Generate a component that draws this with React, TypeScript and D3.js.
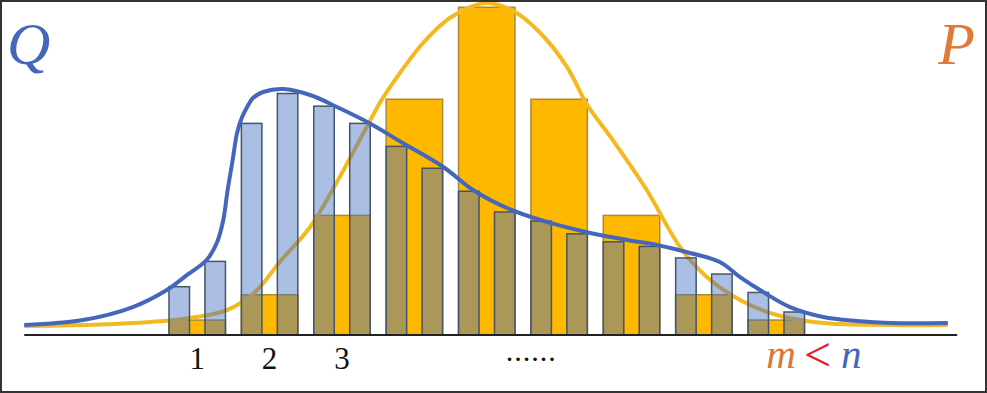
import React from "react";
import * as d3 from "d3";

const W = 987;
const H = 393;

// group index for each bar cluster
const groups = [0, 1, 2, 3, 4, 5, 6, 7, 8];

// P distribution (wide orange bars), one per group
const pValues = [0.013, 0.035, 0.104, 0.205, 0.285, 0.205, 0.104, 0.035, 0.013];

// Q distribution (narrow blue bars), two per group
const qValues = [
  [0.042, 0.064],
  [0.184, 0.21],
  [0.199, 0.184],
  [0.164, 0.145],
  [0.125, 0.107],
  [0.099, 0.088],
  [0.081, 0.077],
  [0.067, 0.053],
  [0.037, 0.02],
];

// smooth density of P, sampled points (x in group units)
const pCurveX = [-2.39, -1.34, -0.65, -0.1, 0.41, 0.8, 1.14, 1.56, 1.93, 2.29, 2.53, 2.76, 3.12, 3.49, 4.0, 4.39, 4.74, 5.11, 5.39, 5.74, 6.21, 6.67, 7.04, 7.5, 8.01, 8.65, 9.57, 10.37];
const pCurveY = [0.0078, 0.0091, 0.0113, 0.0148, 0.0217, 0.0374, 0.0635, 0.0939, 0.133, 0.1748, 0.2026, 0.2243, 0.2539, 0.2757, 0.2887, 0.2809, 0.2626, 0.233, 0.2, 0.1696, 0.1261, 0.0765, 0.0504, 0.0304, 0.0174, 0.0104, 0.0087, 0.0087];

// smooth density of Q
const qCurveX = [-2.39, -1.58, -0.89, -0.42, -0.14, 0.13, 0.27, 0.36, 0.42, 0.49, 0.55, 0.62, 0.69, 0.77, 0.91, 1.19, 1.56, 1.93, 2.35, 2.84, 3.4, 3.81, 4.28, 4.83, 5.43, 5.94, 6.35, 6.81, 7.22, 7.5, 7.82, 8.19, 8.65, 9.12, 9.57, 10.37];
const qCurveY = [0.0087, 0.013, 0.0243, 0.0391, 0.0522, 0.0652, 0.08, 0.1, 0.1261, 0.1522, 0.1757, 0.1896, 0.1983, 0.2061, 0.2113, 0.2139, 0.2087, 0.1983, 0.1852, 0.167, 0.1461, 0.1261, 0.1104, 0.0983, 0.0887, 0.0826, 0.0783, 0.0713, 0.0635, 0.0504, 0.0374, 0.0243, 0.0157, 0.0122, 0.0104, 0.0104];

// x-axis labels
const tickLabels = ["1", "2", "3"];
const dotsLabel = "......";
const dotsAt = 4.63;
const compareAt = 8.52;
const axisExtent = [-2.39, 10.5];

export default function App() {
  const baseline = 335;

  // groups of bars
  const xBand = d3
    .scaleBand<number>()
    .domain(groups)
    .range([169, 804.5])
    .paddingInner(0.22)
    .paddingOuter(0);
  const bw = xBand.bandwidth();
  const inner = d3
    .scaleBand<number>()
    .domain([0, 1])
    .range([0, bw])
    .paddingInner(0.43);

  const x = d3
    .scaleLinear()
    .domain([0, 8])
    .range([xBand(0)! + bw / 2, xBand(8)! + bw / 2]);
  const y = d3.scaleLinear().domain([0, 0.3]).range([baseline, baseline - 0.3 * 1150]);

  const line = d3
    .line<[number, number]>()
    .x((d) => x(d[0]))
    .y((d) => y(d[1]))
    .curve(d3.curveCatmullRom.alpha(0.5));

  const pPts = pCurveX.map((v, i) => [v, pCurveY[i]] as [number, number]);
  const qPts = qCurveX.map((v, i) => [v, qCurveY[i]] as [number, number]);

  const serif = "'Liberation Serif', 'DejaVu Serif', serif";

  return (
    <svg
      width={W}
      height={H}
      style={{ position: "absolute", left: 0, top: 0, display: "block", background: "#fff" }}
    >
      {/* P bars */}
      {groups.map((g) => (
        <rect
          key={"p" + g}
          x={xBand(g)}
          y={y(pValues[g])}
          width={bw}
          height={baseline - y(pValues[g])}
          fill="#FFB800"
          stroke="#A88A3C"
          strokeWidth={1.5}
        />
      ))}

      {/* P curve */}
      <path d={line(pPts) || ""} fill="none" stroke="#F4B91E" strokeWidth={4} />

      {/* Q bars */}
      {groups.map((g) =>
        qValues[g].map((v, j) => (
          <rect
            key={"q" + g + "-" + j}
            x={xBand(g)! + inner(j)!}
            y={y(v)}
            width={inner.bandwidth()}
            height={baseline - y(v)}
            fill="rgba(68,114,196,0.45)"
            stroke="#44546A"
            strokeWidth={1.5}
          />
        ))
      )}

      {/* x axis */}
      <line
        x1={x(axisExtent[0])}
        x2={x(axisExtent[1])}
        y1={baseline}
        y2={baseline}
        stroke="#222"
        strokeWidth={2}
      />

      {/* Q curve */}
      <path d={line(qPts) || ""} fill="none" stroke="#4466BB" strokeWidth={4} />

      {/* labels under groups */}
      {tickLabels.map((t, i) => (
        <text
          key={t}
          x={x(i)}
          y={369}
          textAnchor="middle"
          fontFamily={serif}
          fontSize={31}
          fill="#111"
        >
          {t}
        </text>
      ))}
      <text
        x={x(dotsAt)}
        y={361}
        textAnchor="middle"
        fontFamily={serif}
        fontSize={22}
        fontWeight="bold"
        letterSpacing={3}
        fill="#111"
      >
        {dotsLabel}
      </text>
      <text
        x={x(compareAt)}
        y={368}
        textAnchor="middle"
        fontFamily={serif}
        fontStyle="italic"
        fontSize={41}
      >
        <tspan fill="#D8793A">m</tspan>
        <tspan fill="#E0202A" fontStyle="normal" fontSize={48} dx={8} dy={3}>{"<"}</tspan>
        <tspan fill="#4466BB" dx={10} dy={-3}>n</tspan>
      </text>

      {/* distribution names */}
      <text x={7} y={64} fontFamily={serif} fontStyle="italic" fontSize={60} fill="#4466BB">
        Q
      </text>
      <text x={W - 12} y={64} textAnchor="end" fontFamily={serif} fontStyle="italic" fontSize={60} fill="#E07A38">
        P
      </text>

      {/* frame */}
      <rect x={1} y={1} width={W - 2} height={H - 2} fill="none" stroke="#333" strokeWidth={2} />
    </svg>
  );
}
